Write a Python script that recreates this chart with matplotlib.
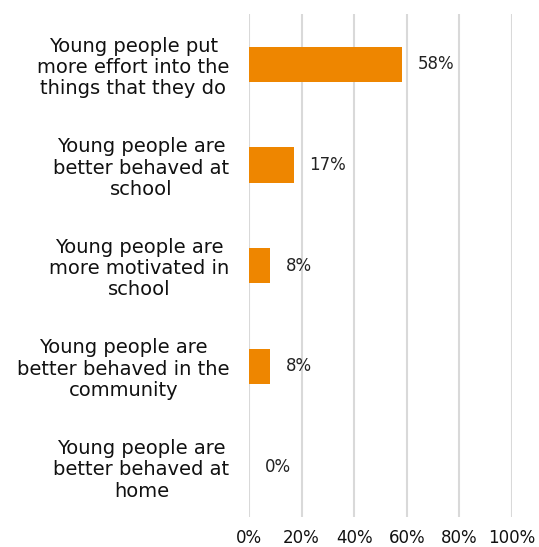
import matplotlib.pyplot as plt
from matplotlib.ticker import FuncFormatter

categories = [
    'Young people put\nmore effort into the\nthings that they do',
    'Young people are\nbetter behaved at\nschool',
    'Young people are\nmore motivated in\nschool',
    'Young people are\nbetter behaved in the\ncommunity',
    'Young people are\nbetter behaved at\nhome',
]
values = [58, 17, 8, 8, 0]
x_ticks = [0, 20, 40, 60, 80, 100]

fig = plt.figure(figsize=(5.39, 5.47), dpi=100)
ax = fig.add_axes([0.462, 0.055, 0.488, 0.919])

pos = list(range(len(categories)))
ax.barh(pos, values, height=0.35, color='#EE8600', zorder=3)

for y, v in zip(pos, values):
    ax.text(v + 6, y, f'{v}%', va='center', ha='left', fontsize=12, color='#222222')

ax.set_xlim(0, 100)
ax.set_ylim(4.5, -0.5)
ax.set_xticks(x_ticks)
ax.xaxis.set_major_formatter(FuncFormatter(lambda v, p: f'{v:.0f}%'))
ax.set_yticks(pos)
ax.set_yticklabels(categories, multialignment='center', fontsize=14,
                   linespacing=1.15, color='#111111')
ax.tick_params(axis='y', length=0, pad=14)
ax.tick_params(axis='x', length=0, pad=9, labelsize=12, colors='#111111')
ax.grid(axis='x', color='#D9D9D9', linewidth=1.5, zorder=0)
for s in ax.spines.values():
    s.set_visible(False)

fig.savefig('out.png', dpi=100)
